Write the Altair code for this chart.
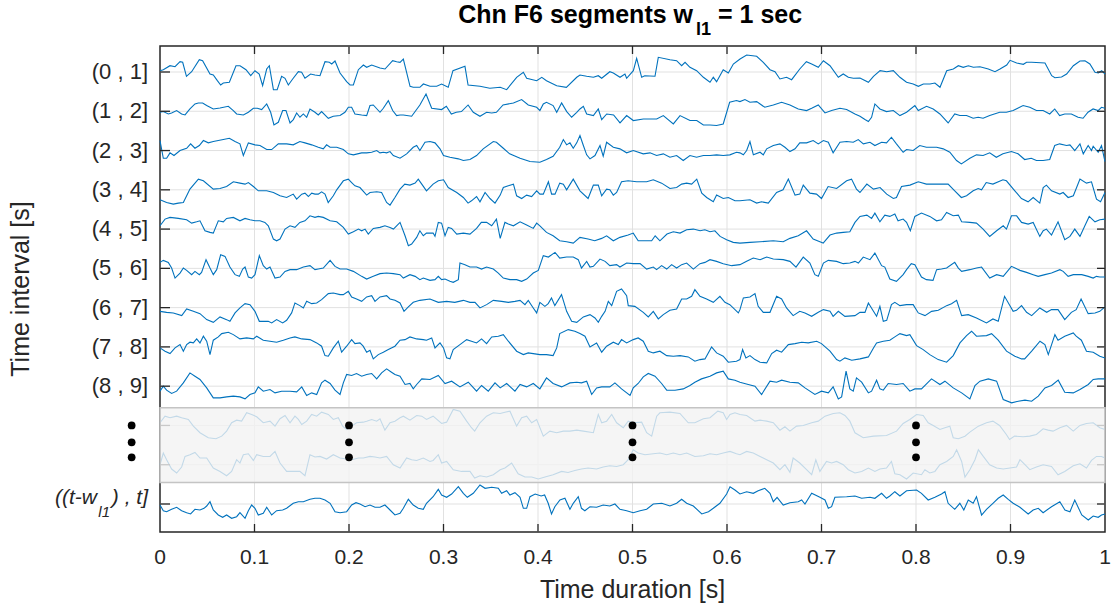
import altair as alt
import pandas as pd

# ---------------------------------------------------------------------------
# Data: one EEG segment per row, samples as (time [ms], amplitude) pairs
# ---------------------------------------------------------------------------
ROW_LABELS = ["(0 , 1]", "(1 , 2]", "(2 , 3]", "(3 , 4]", "(4 , 5]",
              "(5 , 6]", "(6 , 7]", "(7 , 8]", "(8 , 9]"]
X_TICKS = [0, 0.1, 0.2, 0.3, 0.4, 0.5, 0.6, 0.7, 0.8, 0.9, 1]
X_TICK_LABELS = ["0", "0.1", "0.2", "0.3", "0.4", "0.5", "0.6", "0.7", "0.8", "0.9", "1"]
FADED_ROWS = [10, 11]          # segments hidden behind the "..." band
BAND_ROWS = (9.55, 11.45)      # extent of the shaded band (row units)
DOT_TIMES = [-0.03, 0.2, 0.5, 0.8]
DOT_ROWS = [10.0, 10.43, 10.81]
AMP_PER_ROW = 39.3             # amplitude units per row spacing

SEG_01 = [(0, 1.3), (3.5, 2.3), (10.6, 6.3), (15.9, 5.3), (21.2, 10.3), (24, 9.7), (28, -4.3), (33.5, 0.3),
          (41.6, 12.3), (45.1, 11.3), (52.9, -2), (56.4, -3), (60.7, -8.7), (64.2, -13), (67, -11), (73.4, -10.3),
          (80.4, 6.3), (84.7, 6.3), (91, 2.3), (96, -3.7), (100.5, 1.3), (105, -2), (108.6, -13.7), (112.9, 3),
          (115.7, 6.3), (120, -17.7), (124, -17.7), (128.7, -4.3), (132.3, -6.3), (135.8, -13), (140.4, -7),
          (146.4, 0.3), (149.9, -0.3), (153.4, -6.3), (159.4, -2), (164, -3), (169.3, -3.7), (174.6, 10.3),
          (179.2, 9.7), (181.7, 8), (185.2, 11), (190.5, -1), (197.5, -9.7), (201.1, -13), (204.6, -13),
          (209.9, 2.3), (215.2, 7), (218.7, 4.7), (224, 7), (232.8, 4), (238.1, 3), (246.2, 11.3), (250.4, 10.3),
          (254, 9.7), (257.5, 13), (264.6, -14.3), (268, -15.3), (275, -15.3), (278.7, -12), (285.7, -14.3),
          (292.8, -14.3), (298, -12), (305, -15.3), (310, 1.3), (322.7, 5.7), (326, -13), (338.6, -14.3),
          (349, -16.3), (360, -15.3), (366.8, -17.7), (377.4, -5.3), (384.5, -0.3), (388, -6.3), (398.6, -8.7),
          (404, -5.3), (409, -8.7), (419.8, -13.7), (430, -15.3), (441, -5.3), (444.4, -3), (451.5, -4.3),
          (458.6, -5.3), (463.8, -3.7), (467.4, -6.3), (476, 0.3), (479.7, -1), (486.8, -5.3), (492, -2),
          (493.8, -6.3), (500.9, 1.3), (504.4, 13.7), (509.7, -5.3), (513, -3.7), (523.8, -4.3), (527.3, 14.7),
          (539.7, 12.3), (546.7, 11.3), (552, 6.3), (555.6, 9.7), (560.8, 4.7), (567.9, 1.3), (575, -5.3),
          (582, -10.3), (585.5, -5.3), (589, -9.7), (596, 2.3), (601.4, -1), (606.7, 8), (613.8, 13), (620.8, 17),
          (631.4, 15.7), (638.4, 9.7), (645.5, 2.3), (650.8, 0.3), (656, -7), (663, -5.3), (668.4, -7.7), (677, 3),
          (684, 10.3), (689.6, 8), (696.6, 4.7), (702, 11.3), (709, 6.3), (717.8, -5.3), (723, -2), (728.4, -5.3),
          (733.7, -6.3), (740.7, -6), (749.6, -10.3), (755, -4.3), (762, 1.3), (769, 0.3), (776, 1.3), (783, -5.3),
          (790, -10.3), (797, -12), (802.5, -14.3), (807.8, -12), (814.8, -12), (820, -11), (825.4, -15.3),
          (832.5, 1.3), (839.5, 3), (844.8, 6.3), (850, 4.7), (855.4, 6.3), (860.7, 4.7), (867.7, 5.3), (876.5, 3),
          (883.6, 0.3), (888.9, 3), (896, 7), (899.5, 11.7), (906.5, 9), (913.6, 7.7), (917, 9.7), (922.4, 9.7),
          (936.5, 9), (943.6, -3.7), (947, -5.7), (954, -5), (959.4, -2), (966.5, 6.3), (973.5, 11), (978.8, 11.3),
          (984, 8), (989.4, -0.3), (993, -1), (996.5, 1.3), (1000, -2)]

SEG_02 = [(0, -1), (3.5, -0.3), (8.8, -2.7), (12.3, -1.7), (17.6, 0.7), (22.9, -2.7), (26.5, -3.7), (31.7, 2.3),
          (37, 7.3), (40.6, 8.3), (45.1, 8.3), (49.4, 5.7), (56.4, 2.3), (63.5, 3.3), (72.3, 5), (77.6, 0.7),
          (81.1, -2.7), (88.2, -3.7), (93.5, -1), (98.8, 3), (103, 3), (107.6, 1.7), (112.9, 7.3), (117.1, -1),
          (120.6, -13.7), (125.2, -11), (129.8, 0.7), (133.3, 0.7), (137.6, -11.7), (141.1, -8.3), (144.6, -1.7),
          (148.1, -6), (151.7, -2.7), (155.2, -6), (158.7, 2.3), (164, -1), (167.5, -3.7), (171, -0.3), (178.1, -7),
          (183.4, -5), (190.5, -4.3), (195.7, -1), (199.3, 4), (202.8, 4), (206.3, -2.7), (213.4, -3.7),
          (218.7, -4.3), (222.2, 5.7), (225.7, 6.3), (232.8, -1), (236.3, 3), (241.6, 10.7), (246.2, 0.7),
          (250.4, -4.3), (254, -3.7), (257.5, -3.7), (266.3, -5), (275, 6.3), (281.5, 17.3), (287.5, 3), (298, 1.7),
          (303, 5), (308.3, -2.7), (313.5, -1), (319, -0.3), (326, 6.3), (331.5, -1), (338.6, -5), (345.6, -1),
          (351, -1.7), (356, -1), (363, 6.3), (374, 8.3), (382.7, 11.7), (389.7, 6.3), (398.6, 4), (402, 0.7),
          (405.6, 7.3), (409, 9), (416, 5.7), (419.8, -1), (425, 8.3), (430.4, -0.3), (435.6, -6), (441, -1),
          (444.4, 2.3), (448, 5), (451.5, -2.7), (458.6, -4.3), (463.8, 2.3), (467.4, -8.3), (472.7, -2.7),
          (480, -3.7), (486.8, -11.7), (493.8, -4.3), (500.9, -9.3), (511.5, -7.7), (518.5, -7.7), (525.6, -7.7),
          (532.6, -4.3), (543.2, -12.7), (550.3, -4.3), (560.8, -9.3), (568, -9.3), (575, -13.7), (582, -13.7),
          (589, -14.3), (596, -12.7), (602.8, 9), (610, 10.7), (613.7, 9.7), (619, 11.7), (624.3, 9), (631.4, 9.7),
          (640, 4), (649, 6.3), (657.8, 9), (666.6, 6.3), (675.4, 2.3), (684.2, 0.7), (689.6, 3), (696.6, 6.3),
          (703.7, -1.7), (710.7, 0.7), (719.5, 3), (726.6, 1.7), (735.4, -2.7), (740.7, -5), (746, -8.3),
          (749.6, -10.3), (753, -6), (756.5, 7.3), (761.8, 2.3), (768.8, -0.3), (776, 0.7), (783, -4.3), (790, -1),
          (798.8, 5.7), (802.4, 0.7), (811.2, 5), (818.2, 2.3), (825.3, -2.7), (834, -11.7), (841, -2.7),
          (846.4, -4.3), (853.5, -4.3), (860.5, -7), (865.8, -6), (871, -7), (878, -4.3), (888.6, -1), (895.7, -1),
          (902.8, 0.7), (913.3, 5.7), (920.4, 4), (927.4, 0.7), (934.5, 0.7), (941.5, -2.7), (946.8, 2.3),
          (952, -4.3), (957.4, -2.7), (964.4, -2.7), (971.5, -6), (976.8, -7), (982, -1), (987.4, 2.3),
          (992.7, 0.7), (996.3, 4), (1000, 3)]

SEG_03 = [(0, 10), (3.5, -7.7), (7, -7.7), (10.6, -2.3), (14.8, -5), (21.2, 0), (28.2, 2.3), (32.4, 6.7),
          (37, 2.3), (41.6, 5), (45.9, 10), (51.1, 7.7), (56.4, 9), (61.7, 10), (67, 11), (73.4, 12.3), (79.4, 9),
          (84.6, 6.7), (88.2, -5), (93.5, 7.7), (100.5, 5.7), (105.8, 5), (112.9, 1), (118.2, 1), (125.2, 6.7),
          (134, 6.7), (141, 5.7), (148, 9), (153.4, 7.7), (160.5, 5.7), (167.5, 3.3), (172.8, 1.7), (176.3, 5.7),
          (180, 3.3), (187, 3.3), (194, 1), (199.3, -3.3), (204.6, -4.3), (213.4, -2.3), (218.7, -2.3),
          (224, -1.7), (229.3, 0), (232.8, -2.3), (236.3, -1.7), (239.8, -2.3), (243.4, -1), (246.9, -5),
          (254, -7.7), (261, -3.3), (268, 3.3), (271.6, 5), (275, 0), (280.4, 8.3), (285.7, 9), (291, 7.7),
          (296.3, 1.7), (300, -5), (306.8, -6.7), (315.7, -8.3), (321, -10), (328, -9), (335, -5), (342, 1.7),
          (352.7, 9), (356, 8.3), (363.3, 2.3), (370, -3.3), (381, -7.7), (391.5, -11), (402, -11.7), (409, -9),
          (416, -5.7), (423, 3.3), (426.8, 11), (430.3, 5.7), (433.8, 7.7), (437.3, 2.3), (441, 7.7), (444.4, 15),
          (448, 5), (451.5, -4.3), (455, -8.3), (460.3, -5), (465.6, 5), (469, -5.7), (472.6, 8.3), (479.7, 3.3),
          (486.7, 1.7), (493.8, -2.3), (500.8, 0), (511.4, -3.3), (518.5, -2.3), (525.5, -5), (532.6, -3.3),
          (539.6, -6.7), (546.7, -5), (553.7, -10), (560.8, -5), (567.8, -6.7), (575, -5), (582, -5), (589, -4.3),
          (596, -5), (603, -4.3), (610, -1.7), (613.7, -2.3), (617.3, -4.3), (620.8, 0), (624.3, 9), (627.9, -4.3),
          (635, -1.7), (638.4, -4.3), (642, 1.7), (649, 5), (656, 6.7), (661.3, 3.3), (666.6, -1), (672, 1.7),
          (677, 7.7), (684.2, 7.7), (691.2, 10), (696.6, 6.7), (702, 10), (707.2, 8.3), (712.3, -2.3),
          (719.5, 8.3), (726.6, 9), (733.6, 8.3), (738.9, 11), (744.3, 6.7), (751.3, 8.3), (756.5, 5),
          (763.6, 8.3), (768.8, 7.7), (774, 13.3), (779.3, 6.7), (786.4, -1.7), (790, 1), (797, 0), (804, 5),
          (811, 3.3), (821.8, 3.3), (828.8, 1.7), (835.8, -1.7), (842.9, -10), (848, -13.3), (857, -7.7),
          (864, -4.3), (871, -5), (878, -2.3), (885, -6.7), (892, -3.3), (901, -1), (908, -3.3), (915, -9),
          (922, -7.7), (927.4, -10), (934.5, -10), (941.5, -9), (946.8, 5), (952, 6.7), (959.3, 5), (962.9, 5.7),
          (968, 0), (973.5, 6.7), (977, -3.3), (982.2, 5), (985.7, 0), (987.5, 4.3), (992.8, -1.7), (996.3, 5),
          (1000, -11)]

SEG_04 = [(0, -10), (7, -12.7), (14.1, -14.3), (19.4, -13.3), (24.7, -12.7), (31.7, 0.7), (40.6, 10.7),
          (45.9, 9), (56.4, 0.7), (63.5, 1.3), (70.5, 3.3), (77.6, 8), (84.6, 6.7), (90, 5.7), (93.5, 7.3),
          (98.8, 3.3), (104, -1), (112.9, -1), (120, -2.7), (127, -6), (134, -7.7), (141, -4.3), (144.6, -9.3),
          (150, -4.3), (153.4, -3.3), (157, -6.7), (160.5, -3.3), (164, -4.3), (167.5, -4.3), (171, -2),
          (174.6, -4.3), (178, -12.7), (183.4, -6), (187, 0), (194, 9), (199.3, 10.7), (202.8, 7.3), (206.3, 4),
          (211.6, 2.3), (218.7, -5.3), (222.2, -2.7), (229.3, -2), (234.5, -2.7), (239.8, -12.7), (243.4, -15.3),
          (248.6, -7.7), (254, 0.7), (259, 5.7), (264.5, 4.7), (270, 6.7), (273.3, 10.7), (277, 5.7), (282, -1),
          (289, 5.7), (294.5, 9), (300, 10), (305, 2.3), (314, -2.7), (321, -7.7), (326, -13.3), (329.6, -11),
          (335, -6.7), (338.6, -12), (344, -2.7), (349.2, -8.7), (354.5, -13.3), (360, -5.3), (363.3, 2.3),
          (368.6, 4), (374, 5.7), (377.4, -6), (382.7, -8.7), (388, -5.3), (393.3, -6.7), (398.6, -1),
          (402, -4.3), (405.6, -4.3), (411, 8), (414.4, -4.3), (418, -4.3), (423, 6.7), (426.8, 5.7), (430.3, 0),
          (437.3, 10.7), (444.4, -1), (453, -8.7), (458.6, 4.7), (463.8, 4.7), (467.4, -6), (472.6, 0.7),
          (476, 0), (479.7, -5.3), (483.2, -2.7), (488.4, 8), (495.4, 9), (504.4, 8), (515, 8), (522, 10),
          (530.8, 6.7), (539.6, 1.3), (546.7, 2.3), (552, 5.7), (557.3, 6.7), (562.6, 5.7), (568, 10.7),
          (573.3, -3.3), (578.5, -7.7), (585.5, -12), (589, -5.3), (596, -8.7), (601.4, -7.7), (608.4, -11),
          (613.7, -11), (624.3, -10), (631.4, -13.3), (636.6, -12), (643.7, -13.3), (652.5, -2.7), (659.3, 0),
          (664.9, 10.7), (672, -5.3), (677, -4.3), (680.7, 4.7), (687.7, -3.3), (694.7, -4.3), (700, -8.7),
          (707, 3.3), (716, 1.3), (726.6, 9), (731.8, 10.7), (737, 0.7), (740.7, -2.7), (748, 5.7), (755, 0.7),
          (762, 2.3), (769, -4.3), (776, -8.7), (779.3, -7.7), (784.7, 3.3), (793.6, 4.7), (802.4, 8), (811, 5.7),
          (825.3, 5.7), (834, 5.7), (841, -1), (848, -7.7), (853.5, -6), (860.5, -1), (865.8, 1.3), (869.4, 0),
          (874.3, 7.3), (881.4, 5.7), (892, 10), (895.7, 9), (904.6, -1), (911.6, -8.7), (918.6, -12),
          (924, -7.7), (931, -13.3), (934.6, 2.3), (938, 4.7), (943.4, -1), (952.2, -4.3), (955.7, -2.7),
          (961, -7.7), (966.5, -6), (973.5, 10.7), (980.4, 6.7), (985.7, 8), (991, -9.3), (995.3, -12),
          (1000, -2.7)]

SEG_05 = [(0, 3.3), (5.3, 10), (10.6, 11.7), (19.4, 10.7), (28.2, 9.3), (33.5, 6), (38.8, 7.3), (42.3, 8.3),
          (47.6, -1.7), (52.9, -3.3), (56.4, -4), (61.7, 8.3), (67, 7.3), (70.5, 10.7), (77.6, 11.7), (84.6, 8.3),
          (90, 10.7), (95.2, 9.3), (100.5, 8.3), (105.8, 8.3), (111, 6.7), (114.6, 3.3), (120, -10), (123.4, -11.7),
          (127, -10), (132.3, 0), (137.6, 3.3), (142.8, 1.7), (148, 6.7), (153.4, 8.3), (158.7, 13.3), (164, 11.7),
          (167.5, 12.7), (172.8, 11.7), (180, 8.3), (187, 7.3), (194, 1.7), (199.3, -5), (204.6, -2.7), (210, 0),
          (213.4, -1.7), (217, 0), (220.4, -5), (225.7, 0.7), (232.8, 1.7), (238, 3.3), (243.4, 1.7), (247, 0),
          (250.4, 3.3), (254, 6.7), (259.3, -6.7), (262.8, -16.7), (266.3, -15), (271.6, -8.3), (275, -1.7),
          (278.6, -6.7), (282, -4), (289, -4), (291, -7.3), (294.5, 6.7), (298, 6), (301.6, -6.7), (305, 1.7),
          (308.6, 0.7), (314, -5), (321, -4), (328, -5), (335, 0.7), (340, 6.7), (345.6, 6.7), (351, 3.3),
          (356, 10), (360, -9.3), (365, 6.7), (368.6, 5), (374, 3.3), (381, 7.3), (388, 4), (395, 0.7),
          (398.6, 6), (402, 3.3), (409, -3.3), (416, -6.7), (423, -11.7), (430.3, -12.7), (437.3, -14),
          (444.4, -8.3), (453, -10), (460, -11.7), (467.4, -9.3), (472.6, -6.7), (479.7, -11.7), (486.7, -8.3),
          (495.4, -6), (500.8, -4), (506, -11.7), (515, -11.7), (520.3, -11.7), (524, -6.7), (529, -11.7),
          (536.5, -5), (543.2, -2.7), (550.3, -4), (557.3, -0.7), (564.4, 0), (571.5, -1.7), (576.6, -0.7),
          (582, -2.7), (587.2, -1.7), (592.7, -7.3), (599.6, -10.7), (606.6, -13.3), (613.7, -14), (624.3, -13.3),
          (635, -12.7), (649, -11.7), (659.5, -12.7), (666.6, -9.3), (675.4, -6.7), (684.2, -1.7), (691.2, -10),
          (698.3, -12.7), (701.8, -14), (709, -6), (716, -4), (723, -3.3), (730, -2.7), (735.4, 6.7),
          (740.7, 12.7), (748, 14), (753, 10.7), (756.5, 16), (761.8, 7.3), (767, 14), (772.3, 12.7), (777.6, 15),
          (781, 8.3), (786.4, 10), (790, 6.7), (794, -1.7), (798.8, 12.7), (805.8, 16), (814.6, 12.7),
          (821.8, 8.3), (827, 9.3), (832.4, 16.7), (839.4, 13.3), (844.8, 14), (848.3, 7.3), (857, 6.7), (864, 6),
          (871, 0), (878, -7.3), (885.3, -1.7), (892.3, 3.3), (895.7, 0), (901, 13.3), (906.5, 13.3),
          (911.7, 6.7), (918.7, 5), (924, 6.7), (931, -7.3), (934.6, -1.7), (938, 0), (943.4, -6), (950.3, 7.3),
          (957.4, -10.7), (962.9, -7.3), (968, 0), (973.5, -7.3), (978.7, 3.3), (983.3, 12.7), (989.4, 7.3),
          (994.5, 9.3), (1000, 10)]

SEG_06 = [(0, 6), (3.5, 8), (8.8, 6), (12.3, 0.3), (15.9, -9.7), (21.2, -4.7), (24.7, 0.3), (28.2, -2),
          (33.5, -6.3), (37, -3), (41.6, -6.3), (44, -4), (48.7, 8.7), (52.9, 0.3), (56.4, -6.3), (60, -1.3),
          (64.2, 13.7), (68.8, 12), (74, 1.3), (79.4, -6.3), (84, -8), (87.5, -0.7), (90, 1.3), (93.5, -8.7),
          (97, -9.7), (100.5, -6.3), (105.1, 12.7), (109.3, 2.7), (112.9, -0.7), (116.4, 1.3), (121.7, -9.7),
          (127, -8.7), (132.3, -3), (137.6, -1.3), (144.6, -1.3), (151.7, 1.3), (158.7, 2.7), (164, -1.3),
          (167.5, -0.7), (172.8, 0.3), (180, 8), (185.2, 2), (190.5, -0.7), (197.5, -0.7), (204.6, -3),
          (213.4, -8), (218.7, -10.7), (225.7, -8), (232.8, -5.3), (239.8, -4.7), (246.9, -5.3), (254, -6.3),
          (257.5, -9.7), (264.5, -6.3), (270, -8), (275, -11.3), (278.6, -9.7), (285.7, -12), (291, -11.3),
          (294.5, -8), (298, -11.3), (301.6, -10.7), (306.8, -13), (310.3, -14), (315.7, -11.3), (317.4, 5.3),
          (322.7, 3.7), (328, 1.3), (335, 1.3), (340.3, -0.7), (345.6, 1.3), (352.7, -0.7), (358, -4.7),
          (363.3, -9.7), (370.3, -11.3), (377.4, -11.3), (382.7, -13), (388, -10.7), (395, -4.7), (400.3, -2),
          (405.6, 12.7), (411, 11.3), (418, 16), (423, 10.3), (430.3, 11.3), (437.3, 11.3), (442.6, 8.7),
          (446, 0.3), (451.5, 7), (455, 1.3), (458.6, 2), (465.6, 9.3), (471, 7), (476, 2.7), (483.2, 3.7),
          (486.7, 1.3), (493.8, 5.3), (500.8, 4.7), (508, 4.7), (515, -0.7), (522, 1.3), (525.5, -1.3),
          (530.8, 2.7), (536.2, -0.7), (541.4, 3.7), (546.7, 0.3), (552, 3.7), (557.3, 5.3), (564.4, -0.7),
          (571.4, 4.7), (576.7, 6), (582, 8.7), (589, 7), (596, 4.7), (605, 2.7), (613.7, 3.7), (620.8, 7),
          (627.8, 10.3), (635, 8.7), (642, 11.3), (649, 9.3), (659.5, 8.7), (666.6, 7), (673, 1.3), (680.7, 11.3),
          (687.7, 5.3), (693, -6.3), (696.6, -8), (702, 5.3), (707.2, 8), (716, 7), (723, 4.7), (730, 5.3),
          (735.4, 7), (739, 5.3), (744.2, 11.3), (751.3, 8.7), (756.5, 15.3), (763.6, 2.7), (767, 1.3),
          (772.3, -10.7), (779.3, -13), (786.4, -6.3), (790, -1.3), (795, 4.7), (798.8, 3.7), (805.8, -8.7),
          (811, -11.3), (818, -12), (821.8, -1.3), (827, -0.7), (832.4, 0.3), (841, 6), (844.8, 0.3), (848.3, -3),
          (857, -1.3), (864, 0.3), (869.4, 1.3), (878, -9.7), (885.3, -6.3), (892.3, -8), (901, 2), (910, -2),
          (917, -4), (924, -6.3), (929.3, -8), (936.4, -6.3), (943.4, -4.7), (952.2, -1.3), (955.7, -3), (961, -8),
          (966.5, -6.3), (975.4, -6.3), (982.2, -8), (987.5, -9.7), (991, -8), (994.5, -8.7), (1000, -8.7)]

SEG_07 = [(0, -3.7), (7, -4.7), (14.1, -5.3), (23, -8), (28.2, -1.3), (35.3, -3.7), (42.3, -6), (49.4, -12),
          (56.4, -14.7), (63.5, -9.3), (70.5, -12), (74, -13.7), (79.4, -5.3), (84.6, -0.3), (90, 4), (95.2, 3),
          (100.5, -3.7), (105.1, -13.7), (109.3, -13.7), (114.6, -13.7), (118.2, -15.3), (123.4, -12),
          (129.8, -15.3), (134, -12.7), (139.3, -5.3), (142.8, 4.7), (148, 2), (151.7, -0.3), (155.2, 6.3),
          (160.5, 4), (165.8, 4.7), (171, 8), (178.1, 14), (183.4, 14.7), (190.5, 13), (194, 13), (199.3, 16.3),
          (202.8, 10.7), (208, 8.7), (213.4, 6.3), (218.7, 10.7), (224, 12), (227.5, 6.3), (232.8, 10.7),
          (239.8, 12), (243.4, 8.7), (248.6, 7.3), (254, 4.7), (258.2, -3.7), (262.8, 0.7), (268, 5.3),
          (275, 7.3), (285.7, 8.7), (294.5, 5.3), (303.3, 6.3), (312, 5.3), (321, 7.3), (328, 5.3), (333.3, 5.3),
          (338.6, -0.3), (345.6, 3), (352.7, 7.3), (361.5, 6.3), (368.6, 5.3), (375.6, 6.3), (381, 7.3),
          (386.2, 3), (389.7, 7.3), (395, -0.3), (398.6, -5.3), (402, 5.3), (407.3, 1.3), (410.8, 4), (414.3, 9.7),
          (417.8, 2), (424.9, 13), (430.3, -3.7), (435.6, -13.7), (441, -14.7), (448, -9.3), (455, -7),
          (460.3, -10.3), (463.8, -14.7), (467.4, -8.7), (471, -3.7), (474.4, 6.3), (478, 2), (483.2, 16.3),
          (488.4, 18.7), (493.8, 12), (495.5, 2), (502.5, 1.3), (511.4, -4.7), (516.7, -9.3), (522, -3.7),
          (527.3, -11.3), (532.6, -7), (539.6, -2.7), (546.7, -1.3), (552, 8.7), (557.3, 8.7), (562.6, 11.3),
          (566, 18), (571.4, 11.3), (578.4, 8.7), (585.5, 5.3), (592.5, 11.3), (597.8, 5.3), (603, 3),
          (612, -5.3), (613.7, -2), (617.3, 9.7), (624.3, 10.7), (629.6, 14), (633, 1.3), (638.4, -4.7),
          (645.5, -4.7), (652.5, 11.3), (657.8, 8.7), (663, -0.3), (670, -8), (677, -3.7), (682.5, -5.3),
          (689.6, -8.7), (696.6, -4.7), (702, -2), (709, -3.7), (712.3, -8.7), (717.8, -3.7), (724.8, -8.7),
          (735.4, -8), (740.7, -4.7), (746, -4.7), (749.6, 4.7), (755, -3.7), (758.3, -8.7), (761.8, 1.3),
          (765.4, -13.7), (769, -12.7), (774, 3), (777.6, 5.3), (783, 2), (790, 3), (797, 3), (802.4, -5.3),
          (809.5, -8), (816.5, -3.7), (823.6, -2.7), (832.4, 2), (837.6, 4), (843, 7.3), (848.3, -8), (855.3, -7),
          (864, -10.3), (874.6, -15.3), (881.4, -11.3), (887, -13.7), (893.7, 11.3), (902.8, -3.7),
          (906.3, -2.7), (911.7, 2), (917, -4.7), (922.4, -8), (931, -0.3), (938.3, -4.7), (943.4, -2),
          (950.3, -2), (957.4, -12), (964.4, -4.7), (969.5, -2), (974.7, 8.7), (982.2, -6), (989.4, -5.3),
          (994.5, -3.7), (1000, 0.7)]

SEG_08 = [(0, -1), (5.3, -4.3), (10.6, -6.7), (15.9, -1), (21.2, 2.3), (24.7, -4.3), (28.2, 2.3), (31.7, 4.7),
          (35.3, 4), (38.8, 8), (42.3, 4), (45.9, 10.7), (49.4, 5.7), (52.9, -7.7), (56.4, 6.7), (61.7, 10),
          (65.3, 13.3), (72.3, 14.7), (77.6, 12.3), (84.6, 8), (91.7, 9), (98.8, 8), (102.3, 10.7), (109.3, 6.7),
          (116.4, 5.7), (123.4, 4.7), (130.5, 6.7), (137.6, 9), (142.8, 10), (150, 8), (158.7, 7.3), (165.8, 4),
          (171, 0.7), (174.6, -8.7), (178.1, -9.3), (183.4, -1), (188.7, 5.7), (192.2, -5.3), (197.5, 0.7),
          (202.8, 7.3), (206.3, 3.3), (211.6, 4), (215, 0.7), (218.7, -5.3), (222.2, -3.3), (225.7, -12),
          (231, -7.7), (236.3, -5.3), (241.6, -2.7), (248.6, 0.7), (254, 6.7), (259.3, 7.3), (264.5, 10),
          (271.6, 8), (278.6, 7.3), (282, 6.7), (287.5, 9), (291, -1), (296.3, 4), (300, -1), (303.3, -11),
          (306.8, -12), (310.3, -2.7), (317.4, 2.3), (324.5, 7.3), (329.6, 5.7), (335, 4), (340.3, 8),
          (345.6, 3.3), (351, 10), (358, 10.7), (363.3, 12.3), (368.6, 5.7), (377.4, -4.3), (384.5, -7.7),
          (389.7, -6), (395, -6.7), (402, -7.7), (409, -7.7), (416, -8.7), (419.8, -1), (423, 13.3), (432, 17.3),
          (439, 15.7), (444.4, 13.3), (449.7, 10.7), (455, 0), (462, 4), (467.4, -5.3), (472.6, 0.7),
          (479.7, 4.7), (485, 2.3), (488.4, 7.3), (493.8, 4), (500.8, 7.3), (506, 9), (511.4, 5.7), (516.7, -4.3),
          (522, -6), (529, -4.3), (536.2, -8.7), (543.2, -9.3), (550.3, -8.7), (559, -10), (566, -14.3),
          (571.4, -12.7), (576.7, -12), (583.7, 0), (589, -6), (596, -9.3), (601.4, -15.3), (610, -14.3),
          (613.7, -12.7), (616.5, -2.7), (620, -11), (624.3, -8.7), (629.6, -12.7), (635, -15.3), (642, -16),
          (647.3, -6.7), (652.5, -3.3), (657.8, -5.3), (664.9, 2.3), (672, 3.3), (679, 4.7), (686, 4),
          (694.9, 5.7), (700, 3.3), (709, -4.3), (716, -12.7), (719.5, -14.3), (724.8, -11), (732, -13.3),
          (740.7, -12), (749.6, -10), (755, -1), (758.3, 4), (765.4, 5.7), (772.3, 6.7), (777.6, 10), (783, 13.3),
          (790, 11.3), (793.5, 12.3), (800.6, 1.3), (807.6, -2.7), (814.6, -7.7), (823.5, -12.7), (832.4, -15.3),
          (839.4, -8.7), (846.5, 4), (853.5, 11.3), (858.8, 15.7), (864, 10.7), (874.6, 11.3), (880, 13.3),
          (887, 6.7), (895.8, -4.3), (904.6, -9.3), (911.7, -12), (915, -12), (922.4, -4.3), (931.2, 5.7),
          (936.4, 2.3), (940, -7.7), (947, 12.3), (950.3, 6.7), (957.4, 10.7), (966.4, 14), (969.5, 10.7),
          (975, 6.7), (980.4, -4.3), (987.5, -5.3), (994.5, -9.3), (1000, -11)]

SEG_09 = [(0, -5), (3.5, 0), (7, -4), (12.3, -7.3), (17.6, -5), (24.7, 3.3), (31.7, 13.3), (37, 10), (42.3, 6.7),
          (49.4, -1.7), (56.4, -11.7), (63.5, -11.7), (70.5, -10.7), (77.6, -10), (84.6, -10.7), (90, -12.7),
          (95.2, -8.3), (100.5, -6.7), (104, -0.7), (109.3, -5), (116.4, -3.3), (121.7, -6.7), (128.7, -5),
          (137.6, -5), (144.6, -5.7), (150, -0.7), (155.2, -9.3), (160.5, -6.7), (165.8, -8.3), (171, 3.3),
          (174.6, 6), (180, 2.7), (185.2, -4), (190.5, -8.3), (194, 3.3), (197.5, 11.7), (202.8, 10.7),
          (208, 12.7), (213.4, 10), (218.7, 11.7), (224, 12.7), (229.3, 7.3), (234.5, 13.3), (239.8, 17.3),
          (245, 14), (248.6, 11.7), (254, 10), (259.3, 1.7), (264.5, 2.7), (268, -2.7), (271.6, 1.7), (277, 7.3),
          (285.7, 6.7), (294.5, 10.7), (301.6, 2.7), (308.6, 5), (317.4, -0.7), (326.2, 4), (335, -5),
          (340.3, 0.7), (347.4, -5), (354.5, 3.3), (360, -1.7), (366.8, 2.7), (375.6, -5), (381, 1.7),
          (388, -0.7), (395, 2.7), (402, -2.7), (409, 8.3), (416, 2.7), (425, -0.7), (433.8, 3.3), (441, 4),
          (446, 3.3), (451.5, 5), (456.8, -8.3), (462, -1.7), (467.4, -0.7), (476, -0.7), (481.4, 3.3),
          (488.4, -2.7), (497.4, -9.3), (500.8, -1.7), (506, 2.7), (511.4, 9.3), (516.7, 12.7), (523.8, 10),
          (530.8, 2.7), (536.2, -4), (545, -4), (553.7, -2.7), (560.8, 0.7), (566, 4), (573, 7.3), (582, 10),
          (589, 13.3), (596, 15), (601.4, 7.3), (608.4, 6), (613.7, 4), (622.5, 1.7), (629.6, 0), (636.6, -8.3),
          (645.5, 5), (652.5, 4), (657.8, 6), (666.6, 4), (675.4, 3.3), (682.5, -1.7), (693, -8.3), (700, -5),
          (707.2, -6.7), (712.3, -0.7), (717.8, -12.7), (721.3, -10.7), (726, 15), (730, -2.7), (733.6, -5),
          (737, 8.3), (742.5, 4), (749.6, -6.7), (753, -5), (758.3, 6), (761.8, -2.7), (765.4, -4), (770.6, 2.7),
          (779.4, 1.7), (786.4, 2.7), (793.5, -5), (798.8, -2.7), (805.8, -2.7), (816.4, 7.3), (825.3, 1.7),
          (830.6, 5), (839.4, -1.7), (848.3, -6.7), (857, -12.7), (862.4, 0.7), (867.7, 5), (876.5, 7.3),
          (885.3, 5), (892.3, -13.3), (901.2, -16.7), (908.2, -15), (915.3, -14), (922.4, -15), (929.4, -10),
          (936.4, -1.7), (943.5, 0.7), (950.5, 6), (957.4, -6), (966.4, -6.7), (973.5, -3.3), (982.3, 1.7),
          (987.5, 6.7), (992.8, 7.3), (1000, 7.3)]

SEG_10 = [(0, 2.7), (5.3, 9.3), (10.6, 7.7), (17.6, 9.3), (22.9, 7.7), (30, 6), (35.3, -0.7), (42.3, -7.3),
          (51.1, -12.3), (59.2, -13.3), (65.3, -10.7), (70.5, -5.7), (75.8, 2.7), (81.1, 5.3), (86.4, 4.3),
          (91.7, 12.7), (97, 11), (102.3, 8.7), (109.3, 2.7), (116.4, 4.3), (121.7, -0.7), (127, 6.7), (132.3, 10),
          (137.6, 2.7), (142.8, 9.3), (146.4, 6), (150, 1), (155.2, 4.3), (160.5, 11), (165.8, 9.3), (171, 13.3),
          (178.1, 11), (183.4, 6), (188.7, 7.7), (193.3, -0.7), (197.5, -4), (202.8, -0.7), (208, 2.7),
          (215, 3.3), (218.7, 4.3), (224, 6), (229.3, 4.3), (232.8, 6.7), (238, -4.7), (243.4, 2.7), (248.6, 4.3),
          (254, 7.7), (257.5, 9.3), (264.5, 5.3), (271.6, 10), (277, 9.3), (282, 6), (289, 9.3), (298, 2),
          (303.3, 3.3), (310.3, 16), (317.4, 14.3), (324.5, 4.3), (329.6, -2.3), (333, -5.7), (338.6, 2.7),
          (345.6, 9.3), (352.7, 12.7), (360, 12), (365, 13.3), (370.3, 14.3), (377.4, -0.7), (382.7, 7.7),
          (388, 9.3), (393.3, 2.7), (398.6, 6), (405.6, -10.7), (412.6, -5.7), (419.7, -7.3), (426.8, -5.7),
          (433.8, -5.7), (441, -4.7), (448, -5.7), (458.6, -7.3), (463.8, 11), (467.4, 2.7), (472.6, 4.3),
          (478, 11), (483.2, 2.7), (490.2, -2.3), (495.5, 4.3), (500.8, 2.7), (509.7, 3.3), (515, -7.3),
          (520.3, -10.7), (525.6, 9.3), (529, 12.7), (539.6, 13.3), (550.2, 12), (559, 2.7), (566, 2.7),
          (575, 6.7), (582, 7.7), (590.3, 14.3), (596, 12.7), (599.6, 6), (603.2, 11), (608.4, 12.7), (613.7, 11),
          (620.8, 10), (629.6, 4.3), (635, 5.3), (642, 4.3), (649, 2.7), (656, -4.7), (661.3, -1.3),
          (666.6, -5.7), (673.6, -0.7), (680.7, 0), (689.6, 2.7), (696.6, 4.3), (703.7, 9.3), (712.5, 12),
          (719.5, 12.7), (724.8, 10), (730, 4.3), (735.4, -7.3), (744.2, -12.3), (755, -10.7), (768.8, -10),
          (779.4, -5.7), (786.4, 2), (793.5, 6), (800.6, 11), (807.6, 10), (812.9, 2.7), (818.2, 0), (825.3, -4),
          (830.6, -2.3), (835.8, -0.7), (839.4, -12.3), (844.8, -13.3), (851.8, -10.7), (857, -6.7), (866, -0.7),
          (874.6, 2.7), (881.4, 4.3), (888.4, 0), (895.6, -9), (899, -14), (904.3, -10.7), (913.3, -11.3),
          (920.4, -10.7), (927.4, -9), (934.5, -3.3), (939.8, -4.7), (945, -5.7), (952.2, -2.3), (959.3, 0),
          (966.4, -5.7), (973.5, 0), (980.4, 2), (987.5, 2.7), (994.5, -2.3), (1000, -4)]

SEG_11 = [(0, 0), (3.5, 11.7), (7, 5), (12.3, -4.3), (17.6, -8.3), (22.9, -2.3), (26.5, 8.3), (31.7, 10),
          (37, 12.3), (42.3, 6.7), (49.4, 6.7), (56.4, -3.3), (63.5, -6.7), (70.5, -11), (75.8, -6.7), (81.1, 5),
          (84.6, 1.7), (88.2, 10), (93.5, 11), (98.8, 4.3), (102.3, 10), (109.3, 8.3), (116.4, 8.3), (121.7, 13.3),
          (127, 1.7), (134, -6.7), (141, -6.7), (148, -6.7), (153.4, -11), (158.7, 10), (164, 7.7), (169.3, 8.3),
          (176.3, 5.7), (183.4, 10), (190.5, 6.7), (197.5, 5.7), (202.8, 5), (209.9, 6.7), (215.2, 6.7),
          (222.2, 8.3), (227.5, 7.7), (232.8, 6.7), (239.8, 8.3), (246.9, 0), (254, -3.3), (261, 6.7), (266.3, 5),
          (271.6, 4.3), (278.6, 6.7), (285.7, 3.3), (289, 4.3), (294.5, 10), (298, 1.7), (303.3, 3.3),
          (310.3, -5), (319.2, -6.7), (328, -6.7), (333, -13.3), (338.6, -11), (345.6, -12.3), (352.7, -10),
          (360, -5), (365, -3.3), (372.1, 1.7), (379, -9), (386.2, -12.3), (393.3, -12.3), (400.3, -14.3),
          (407.4, -12.3), (416, -10), (425, -6.7), (431.8, -7.7), (439, -5.7), (446, -4.3), (453, -3.3),
          (462, -4.3), (469, -2.3), (476, -1), (483.2, -1.7), (490.2, 0), (495.5, 5), (500.8, 15), (506, 11.7),
          (513.2, 10), (522, 11), (529, 11.7), (536.2, 10), (543.2, 11.7), (550.2, 10), (557.3, 11.7),
          (566, 8.3), (575, 9), (582, 11), (589, 10), (596, 11.7), (603.2, 13.3), (610, 11), (613.7, 10),
          (620.8, 13.3), (627.8, 11.7), (635, 8.3), (642, 5), (649, 1.7), (656, -5), (661.3, 0), (666.6, -7.7),
          (670, 6.7), (677, 1.7), (684.2, -5), (689.6, -10), (694, 5), (698.3, -6.7), (705.3, 3.3), (710.7, 1.7),
          (716, 3.3), (723, 0), (728.4, -5), (735.4, -8.3), (742.5, -6.7), (749.6, -3.3), (756.5, -6.7),
          (761.8, -4.3), (768.8, -3.3), (774, 3.3), (777.6, -9), (783, -10), (790, -14.3), (797, -8.3),
          (805.8, -10), (809.4, -5), (814.6, -8.3), (820, -6.7), (825.3, 0), (832.4, 3.3), (839.4, 8.3),
          (843, 15), (848.3, 3.3), (851.8, -12.3), (857, -5), (862.4, 5), (866, 15), (871.2, 8.3), (878, 0),
          (885.3, -3.3), (892.3, -4.3), (899.4, -3.3), (906.4, -2.3), (910, 5), (915.3, 0), (920.4, -5),
          (927.4, -2.3), (934.5, 0), (943.4, -1.7), (950.3, -10), (957.4, -6.7), (966.4, -1), (973.5, 1),
          (980.4, -3.3), (985.7, 4.3), (991, 8.3), (996.3, 8.3), (1000, 6.7)]

SEG_12 = [(0, -1), (3.5, -6.7), (7, -7.7), (12.3, -5.3), (17.6, -3.3), (22.9, -6.7), (28.2, -8.7), (32.4, -10),
          (37, -5.3), (42.3, -6), (46.6, -4.3), (49.4, -2), (52.9, 2.3), (56.4, -6), (61.7, -11), (66.3, -13.3),
          (70.5, -11), (75.8, -14.3), (81.1, -12.7), (84.6, -8.7), (90, -14.3), (93.5, -6.7), (97, -1),
          (100.5, -4.3), (104, -11), (109.3, -9.3), (112.9, -3.3), (118.2, -11), (123.4, -6.7), (129.8, -6),
          (134, -4.3), (141, 0.7), (146.4, 2.3), (151.7, 2.3), (158.7, 4.7), (164, 5.7), (169.3, 5.7), (174.6, 4),
          (180, 0.7), (185.2, -7.7), (190.5, -8.7), (197.5, -7.7), (202.8, -1), (207.4, 1.3), (211.6, 0),
          (217, -2.7), (222.2, -1), (227.5, -3.3), (232.8, -3.3), (238, -1), (243.4, -6), (248.6, -11),
          (254, -9.3), (257.5, -4.3), (262.8, 4.7), (268, -1), (273.3, -4.3), (278.6, -5.3), (282, 0.7),
          (289, 7.3), (294.5, 14.7), (298, 9), (303.3, 6.7), (308.6, 10), (315.7, 17.3), (321, 10.7),
          (325.2, 6.7), (331.5, 10.7), (338.6, 19), (344, 15.7), (351, 16.7), (358, 15.7), (361.5, 10.7),
          (366.8, 13.3), (370.3, 9), (375.6, 11.3), (381, 6.7), (384.5, -4.3), (388, -4.3), (391.5, 7.3),
          (397, 10), (403.3, 8), (407, 9), (410.8, 0.7), (414.3, -10), (417.8, -2.7), (423.2, 4), (428.5, 5.7),
          (433.8, -5.3), (437.3, 0.7), (442.6, 7.3), (446, -4.3), (449.6, -6.7), (455, -2.7), (462, -3.3),
          (469, -1), (476, -2), (481.4, 0), (486.7, -5.3), (493.8, -6.7), (500.8, -8.7), (508, -6.7), (515, -5.3),
          (522, 0), (531, 0.7), (539.6, -2), (546.7, 0.7), (552, 4.7), (557.3, 0.7), (564.4, -2), (573.3, -10),
          (580.4, -7.7), (585.5, -4.3), (592.5, 0.7), (599.6, 10), (603.2, 17.3), (608.4, 14), (613.7, 10),
          (620.8, 12.3), (627.8, 10.7), (633, 13.3), (640, 15.7), (645.5, 10.7), (649, 2.3), (653, 6.7),
          (659.5, -1), (666.6, 1.3), (675.4, 2.3), (679, 4), (682.5, 0), (689.6, 10.7), (698.3, 6.7), (703.7, 4),
          (707.2, -4.3), (710.7, -2.7), (714.2, 6.7), (726.6, 7.3), (735.4, 8), (742.5, 5.7), (751.3, 6.7),
          (756.5, 5.7), (763.6, 10.7), (768.8, 5.7), (772.3, 8), (777.6, 12.3), (783, 8), (790, 13.3),
          (800.6, 14), (805.8, 10.7), (812.9, 4), (820, 6.7), (827, 10), (830.6, 12.3), (834, 0.7), (841, -5.3),
          (846.4, 0.7), (850.6, -6), (855.3, 4), (860.5, 0.7), (864, 7.3), (869.4, -11), (874.6, -5.3),
          (881.4, 0.7), (887, 5.7), (892.3, 9), (897.6, 4.7), (902.8, 0.7), (910, -3.3), (918.7, -10), (924, -6),
          (929.4, -4.3), (934.5, -8.7), (943.4, -2.7), (952.2, 2.3), (957.6, -6), (962.9, -7.7), (968, 4),
          (975.4, -11), (982.3, -16), (987.5, -12), (992.8, -13.3), (996.3, -11), (1000, -10)]

SEGMENTS = [SEG_01, SEG_02, SEG_03, SEG_04, SEG_05, SEG_06,
            SEG_07, SEG_08, SEG_09, SEG_10, SEG_11, SEG_12]

# ---------------------------------------------------------------------------
# Styling
# ---------------------------------------------------------------------------
BLUE = "#0072BD"
INK = "#262626"
GRID = "#e1e1e1"
FONT = "Liberation Sans"
W, H = 945, 486

records = []
for row, seg in enumerate(SEGMENTS, start=1):
    for t_ms, amp in seg:
        records.append({"row": row, "t": t_ms / 1000.0, "y": row - amp / AMP_PER_ROW})
traces = pd.DataFrame(records)

all_rows = list(range(1, len(SEGMENTS) + 1))
X_SCALE = alt.Scale(domain=[0, 1], nice=False, zero=False)
Y_SCALE = alt.Scale(domain=[0.338, 12.713], reverse=True, nice=False, zero=False)


def xq(field):
    return alt.X(field, type="quantitative", scale=X_SCALE, axis=None)


def yq(field):
    return alt.Y(field, type="quantitative", scale=Y_SCALE, axis=None)


def label(text, x, y, size, **style):
    """A single free-standing text placed in plot-area pixels."""
    return alt.Chart(pd.DataFrame({"s": [text]})).mark_text(
        font=FONT, fontSize=size, **style
    ).encode(x=alt.value(x), y=alt.value(y), text="s:N")


tick_df = pd.DataFrame({"t": X_TICKS, "label": X_TICK_LABELS})
inner_ticks = tick_df.iloc[1:-1]
row_df = pd.DataFrame({"row": all_rows})

v_grid = alt.Chart(inner_ticks).mark_rule(color=GRID, strokeWidth=1).encode(x=xq("t"))
h_grid = alt.Chart(row_df).mark_rule(color=GRID, strokeWidth=1).encode(
    y=yq("row"), x=alt.value(0), x2=alt.value(W))

lines = alt.Chart(traces).mark_line(color=BLUE, strokeWidth=1.1).encode(
    x=xq("t"), y=yq("y"), detail="row:N", order="t:Q")

left_ticks = alt.Chart(row_df).mark_rule(color=INK, strokeWidth=1.3).encode(
    y=yq("row"), x=alt.value(0), x2=alt.value(10))
right_ticks = alt.Chart(row_df).mark_rule(color=INK, strokeWidth=1.3).encode(
    y=yq("row"), x=alt.value(W - 8), x2=alt.value(W))
top_ticks = alt.Chart(inner_ticks).mark_rule(color=INK, strokeWidth=1.3).encode(
    x=xq("t"), y=alt.value(0), y2=alt.value(8))
bottom_ticks = alt.Chart(inner_ticks).mark_rule(color=INK, strokeWidth=1.3).encode(
    x=xq("t"), y=alt.value(H - 8), y2=alt.value(H))

band_df = pd.DataFrame({"x0": [0], "x1": [1], "y0": [BAND_ROWS[0]], "y1": [BAND_ROWS[1]]})
band = alt.Chart(band_df).mark_rect(
    fill="#f2f2f2", fillOpacity=0.8, stroke="#c4c4c4", strokeWidth=1.5
).encode(x=xq("x0"), x2="x1", y=yq("y0"), y2="y1")

dot_df = pd.DataFrame([{"t": t, "row": r} for t in DOT_TIMES for r in DOT_ROWS])
dots = alt.Chart(dot_df).mark_circle(color="black", opacity=1, size=60).encode(
    x=xq("t"), y=yq("row"))

# row labels on the left
ylab_df = pd.DataFrame({"row": list(range(1, len(ROW_LABELS) + 1)), "label": ROW_LABELS})
y_labels = alt.Chart(ylab_df).mark_text(
    align="right", baseline="middle", font=FONT, fontSize=22, color=INK
).encode(x=alt.value(-12), y=yq("row"), text="label:N")

# last row label: ((t-w_l1) , t]  (three pieces laid side by side)
last_row = len(SEGMENTS)
lab_parts = pd.DataFrame({"row": [last_row] * 3,
                          "part": ["((t-w", "l1", ") , t]"],
                          "xr": [-63, -50, -12]})
last_main_a = alt.Chart(lab_parts.iloc[[0]]).mark_text(
    align="right", baseline="middle", font=FONT, fontSize=21, fontStyle="italic", color=INK, dy=-6
).encode(x=alt.value(-63), y=yq("row"), text="part:N")
last_sub = alt.Chart(lab_parts.iloc[[1]]).mark_text(
    align="right", baseline="middle", font=FONT, fontSize=15, fontStyle="italic", color=INK, dy=8
).encode(x=alt.value(-50), y=yq("row"), text="part:N")
last_main_b = alt.Chart(lab_parts.iloc[[2]]).mark_text(
    align="right", baseline="middle", font=FONT, fontSize=21, fontStyle="italic", color=INK, dy=-6
).encode(x=alt.value(-12), y=yq("row"), text="part:N")

# x tick labels
x_labels = alt.Chart(tick_df).mark_text(
    align="center", baseline="alphabetic", font=FONT, fontSize=21, color=INK
).encode(x=xq("t"), y=alt.value(518), text="label:N")

# axis titles
x_title = label("Time duration [s]", W / 2, 552, 25, align="center", baseline="alphabetic", color=INK)
y_title = label("Time interval [s]", -139, H / 2, 25, align="center", baseline="middle",
                color=INK, angle=270)

# chart title with subscript
title_main = label("Chn F6 segments w", 533, -23, 25, align="right", baseline="alphabetic",
                   fontWeight="bold", color="black")
title_sub = label("l1", 536, -11, 18, align="left", baseline="alphabetic",
                  fontWeight="bold", color="black")
title_rest = label("= 1 sec", 558, -23, 25, align="left", baseline="alphabetic",
                   fontWeight="bold", color="black")

chart = alt.layer(
    v_grid, h_grid, lines,
    left_ticks, right_ticks, top_ticks, bottom_ticks,
    band, dots,
    y_labels, last_main_a, last_sub, last_main_b,
    x_labels, x_title, y_title,
    title_main, title_sub, title_rest,
).properties(
    width=W, height=H,
    padding={"left": 160, "top": 46, "right": 10, "bottom": 78},
    autosize=alt.AutoSizeParams(type="none"),
    background="white",
).configure_view(stroke=INK, strokeWidth=1.5)

chart.save("out.html", embed_options={"renderer": "svg", "actions": False})
